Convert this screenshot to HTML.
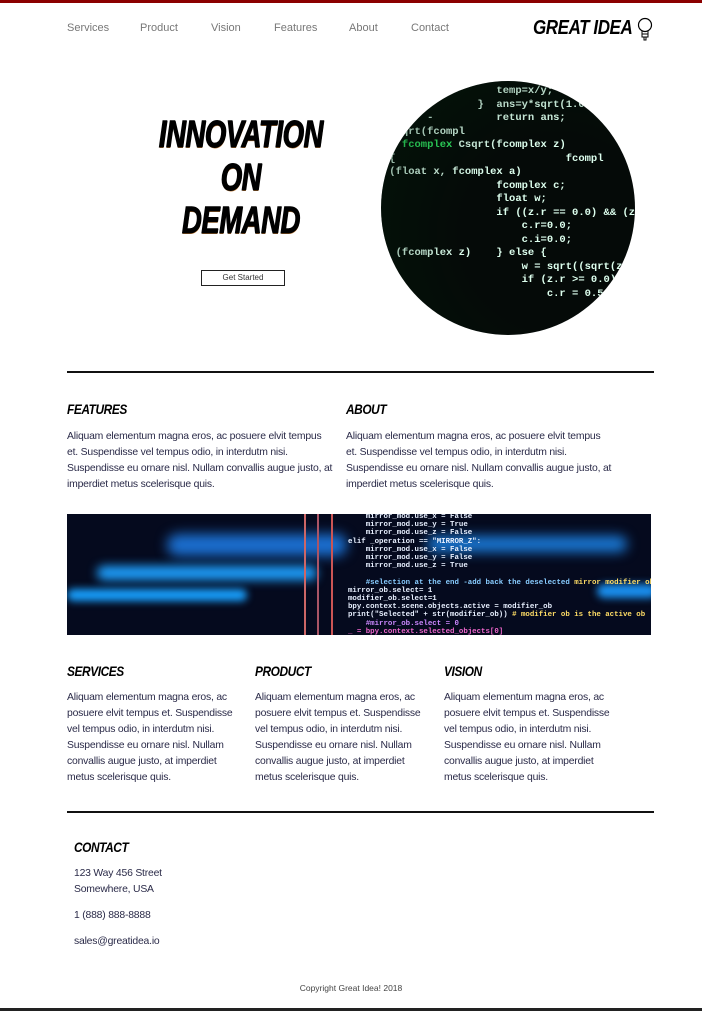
<!DOCTYPE html>
<html><head><meta charset="utf-8"><style>
*{margin:0;padding:0;box-sizing:border-box}
body{width:702px;height:1011px;background:#fff;position:relative;overflow:hidden;font-family:"Liberation Sans",sans-serif;color:#2a2a48}
.a{position:absolute}
.nav{top:22px;font-size:11px;color:#777}
.bang{font-weight:900;font-style:italic;color:#000;letter-spacing:-0.5px;transform-origin:left top}
.h{font-size:14px;transform:scaleX(0.85)}
.p{font-size:10.4px;line-height:16px;color:#2a2a48;letter-spacing:-0.2px;white-space:nowrap}
.line{height:2px;background:#111;left:67px;width:587px}
pre{font-family:"Liberation Mono",monospace;margin:0}
</style></head><body>
<div class="a" style="top:0;left:0;width:702px;height:3px;background:#8b0000"></div>
<div class="a nav" style="left:67px">Services</div>
<div class="a nav" style="left:140px">Product</div>
<div class="a nav" style="left:211px">Vision</div>
<div class="a nav" style="left:274px">Features</div>
<div class="a nav" style="left:349px">About</div>
<div class="a nav" style="left:411px">Contact</div>
<div class="a bang" style="left:533px;top:17px;font-size:20px;transform:scaleX(0.85)">GREAT IDEA</div>
<svg class="a" style="left:636px;top:17px" width="20" height="26"><circle cx="9" cy="8" r="6.5" fill="none" stroke="#000" stroke-width="1.2"/><path d="M6 14 L6 20 L12 20 L12 14 M6 17 H12 M8 20 L8 23 L10 23 L10 20" fill="none" stroke="#000" stroke-width="1"/></svg>

<div class="a bang" style="left:158px;top:114px;width:230px;text-align:center;font-size:38px;line-height:43px;transform:scaleX(0.72);text-shadow:1px 0 0 #000,0.5px 1px 0 #b73;-webkit-text-stroke:1px #000">INNOVATION<br>ON<br>DEMAND</div>
<div class="a" style="left:201px;top:270px;width:84px;height:16px;border:1px solid #222;font-size:8px;text-align:center;line-height:14px;color:#333">Get Started</div>

<div class="a" style="left:381px;top:81px;width:254px;height:254px;border-radius:50%;background:#050a08;overflow:hidden">
<pre style="position:absolute;left:2px;top:4px;color:#dfe;font-size:10.5px;line-height:13.5px;font-weight:bold">                  temp=x/y;
               }  ans=y*sqrt(1.0+temp
   ..  -          return ans;
  sqrt(fcompl
 { <span style="color:#3e6">fcomplex</span> Csqrt(fcomplex z)
 {                           fcompl
 (float x, fcomplex a)
                  fcomplex c;
                  float w;
                  if ((z.r == 0.0) &amp;&amp; (z.i == 0.0))
                      c.r=0.0;
                      c.i=0.0;
  (fcomplex z)    } else {
                      w = sqrt((sqrt(z.r
                      if (z.r &gt;= 0.0)
                          c.r = 0.5</pre>
<div style="position:absolute;left:0;top:0;width:100%;height:100%;background:radial-gradient(circle at 70% 60%,rgba(0,0,0,0) 40%,rgba(0,30,10,0.5) 100%)"></div>
</div>

<div class="a line" style="top:371px"></div>

<div class="a bang h" style="left:67px;top:401px">FEATURES</div>
<div class="a p" style="left:67px;top:429px">Aliquam elementum magna eros, ac posuere elvit tempus<br>et. Suspendisse vel tempus odio, in interdutm nisi.<br>Suspendisse eu ornare nisl. Nullam convallis augue justo, at<br>imperdiet metus scelerisque quis.</div>
<div class="a bang h" style="left:346px;top:401px">ABOUT</div>
<div class="a p" style="left:346px;top:429px">Aliquam elementum magna eros, ac posuere elvit tempus<br>et. Suspendisse vel tempus odio, in interdutm nisi.<br>Suspendisse eu ornare nisl. Nullam convallis augue justo, at<br>imperdiet metus scelerisque quis.</div>

<div class="a" style="left:67px;top:514px;width:584px;height:121px;background:#050a1e;overflow:hidden">
<div style="position:absolute;left:100px;top:20px;width:180px;height:22px;border-radius:11px;background:#1b6fd0;filter:blur(6px)"></div>
<div style="position:absolute;left:30px;top:52px;width:220px;height:14px;border-radius:7px;background:#1ea0ff;filter:blur(5px)"></div>
<div style="position:absolute;left:0;top:75px;width:180px;height:12px;border-radius:6px;background:#18a0ff;filter:blur(4px)"></div>
<div style="position:absolute;left:360px;top:22px;width:200px;height:16px;border-radius:8px;background:#1a7ad8;filter:blur(6px)"></div>
<div style="position:absolute;left:530px;top:70px;width:60px;height:14px;border-radius:7px;background:#1a90f0;filter:blur(4px)"></div>
<div style="position:absolute;left:237px;top:0;width:2px;height:121px;background:#c66"></div>
<div style="position:absolute;left:250px;top:0;width:2px;height:121px;background:#a56"></div>
<div style="position:absolute;left:264px;top:0;width:2px;height:121px;background:#c55"></div>
<pre style="position:absolute;left:281px;top:-1px;font-size:7.4px;line-height:8.2px;color:#e8f0ff;font-weight:bold">    mirror_mod.use_x = False
    mirror_mod.use_y = True
    mirror_mod.use_z = False
elif _operation == "MIRROR_Z":
    mirror_mod.use_x = False
    mirror_mod.use_y = False
    mirror_mod.use_z = True

    <span style="color:#8cf">#selection at the end -add back the deselected</span> <span style="color:#fd6">mirror modifier object</span>
mirror_ob.select= 1
modifier_ob.select=1
bpy.context.scene.objects.active = modifier_ob
print("Selected" + str(modifier_ob)) <span style="color:#fd6"># modifier ob is the active ob</span>
    <span style="color:#c8f">#mirror_ob.select = 0</span>
<span style="color:#e6c">_ = bpy.context.selected_objects[0]</span></pre>
</div>

<div class="a bang h" style="left:67px;top:663px">SERVICES</div>
<div class="a p" style="left:67px;top:690px">Aliquam elementum magna eros, ac<br>posuere elvit tempus et. Suspendisse<br>vel tempus odio, in interdutm nisi.<br>Suspendisse eu ornare nisl. Nullam<br>convallis augue justo, at imperdiet<br>metus scelerisque quis.</div>
<div class="a bang h" style="left:255px;top:663px">PRODUCT</div>
<div class="a p" style="left:255px;top:690px">Aliquam elementum magna eros, ac<br>posuere elvit tempus et. Suspendisse<br>vel tempus odio, in interdutm nisi.<br>Suspendisse eu ornare nisl. Nullam<br>convallis augue justo, at imperdiet<br>metus scelerisque quis.</div>
<div class="a bang h" style="left:444px;top:663px">VISION</div>
<div class="a p" style="left:444px;top:690px">Aliquam elementum magna eros, ac<br>posuere elvit tempus et. Suspendisse<br>vel tempus odio, in interdutm nisi.<br>Suspendisse eu ornare nisl. Nullam<br>convallis augue justo, at imperdiet<br>metus scelerisque quis.</div>

<div class="a line" style="top:811px"></div>
<div class="a bang h" style="left:74px;top:839px">CONTACT</div>
<div class="a p" style="left:74px;top:866px">123 Way 456 Street<br>Somewhere, USA</div>
<div class="a p" style="left:74px;top:908px">1 (888) 888-8888</div>
<div class="a p" style="left:74px;top:934px">sales@greatidea.io</div>
<div class="a" style="left:0;width:702px;top:983px;text-align:center;font-size:8.5px;color:#444">Copyright Great Idea! 2018</div>
<div class="a" style="left:0;top:1008px;width:702px;height:3px;background:#222"></div>
</body></html>
